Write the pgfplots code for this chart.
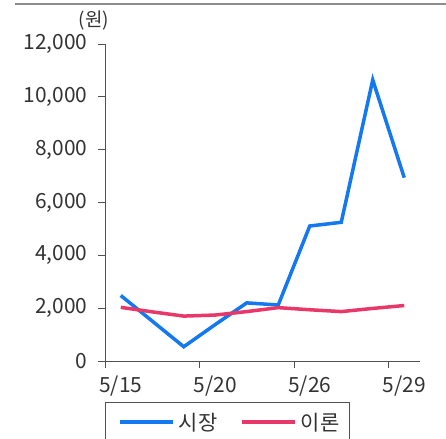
\documentclass[border=0pt]{standalone}
\usepackage{pgfplots}
\pgfplotsset{compat=1.18}
\usepackage{fontspec}
\setmainfont{Noto Sans CJK KR}
\definecolor{market}{RGB}{20,120,240}
\definecolor{theory}{RGB}{232,56,106}
\definecolor{txt}{RGB}{51,51,51}
\definecolor{axisgray}{RGB}{80,80,80}

\pgfplotstableread{
idx market theory
0   2480   2030
1   1510   1860
2   540    1700
3   1380   1740
4   2200   1870
5   2120   2020
6   5110   1940
7   5250   1870
8   10640  1990
9   6940   2100
}\prices

\begin{document}
\begin{tikzpicture}
\useasboundingbox (0,0) rectangle (446bp,439bp);
% header rule
\draw[gray!90, line width=1.2bp] (15bp,435bp) -- (446bp,435bp);
\node[text=txt, font=\fontsize{19}{22}\selectfont] at (94bp,418bp) {(원)};
\begin{axis}[
    at={(105bp,78bp)}, anchor=south west,
    scale only axis, width=315bp, height=317bp,
    xmin=-0.5, xmax=9.5, ymin=0, ymax=12000,
    axis x line*=bottom, axis y line*=left,
    axis line style={draw=axisgray, line width=0.8bp},
    tick style={draw=axisgray, line width=0.8bp},
    tick align=outside, major tick length=7bp,
    xtick={-0.5,2.5,5.5,8.5},
    xticklabels={5/15,5/20,5/26,5/29},
    xticklabel style={xshift=15.75bp, yshift=-4bp},
    yticklabel style={xshift=-7bp},
    ytick={0,2000,...,12000},
    scaled y ticks=false,
    /pgf/number format/assume math mode=true,
    /pgf/number format/1000 sep={,},
    ticklabel style={text=txt, font=\fontsize{21}{25}\selectfont},
    legend columns=2,
    legend style={at={(0,-0.129)}, anchor=north west,
        draw=axisgray, line width=0.8bp, text=txt,
        font=\fontsize{21}{25}\selectfont,
        inner xsep=8bp, inner ysep=9bp,
        nodes={text depth=12bp},
        /tikz/every even column/.append style={column sep=16bp}},
    legend image code/.code={\path (0bp,0bp) (60bp,0bp);
        \draw[#1, line width=3.5bp] (5bp,6bp) -- (58bp,6bp);},
    legend cell align=left,
]
\addplot[market, line width=3.5bp] table[x=idx, y=market] {\prices};
\addplot[theory, line width=3.5bp] table[x=idx, y=theory] {\prices};
\legend{시장, 이론}
\end{axis}
\end{tikzpicture}
\end{document}
